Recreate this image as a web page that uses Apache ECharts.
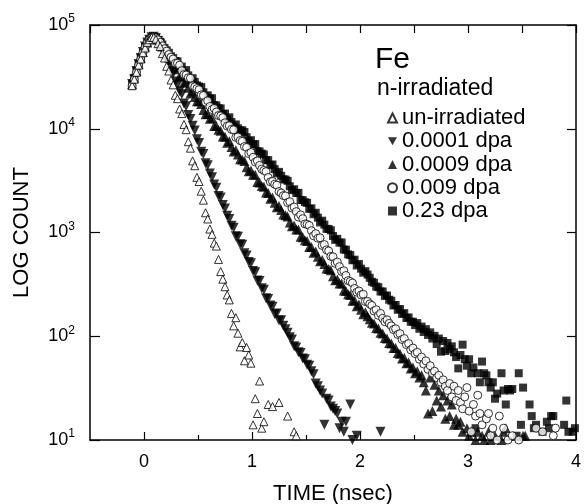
<!DOCTYPE html>
<html>
<head>
<meta charset="utf-8">
<script src="https://cdn.jsdelivr.net/npm/echarts@6/dist/echarts.min.js"></script>
<style>
  html, body { margin: 0; padding: 0; background: #fff; }
  #chart { width: 588px; height: 504px; }
</style>
</head>
<body>
<div id="chart"></div>
<script>
// channel times (nsec), one per spectrum channel
const times = [
  -0.11,-0.09,-0.07,-0.05,-0.03,-0.01,0.01,0.03,0.05,0.07,
  0.09,0.11,0.13,0.15,0.17,0.19,0.21,0.23,0.25,0.27,
  0.29,0.31,0.33,0.35,0.37,0.39,0.41,0.43,0.45,0.47,
  0.49,0.51,0.53,0.55,0.57,0.59,0.61,0.63,0.65,0.67,
  0.69,0.71,0.73,0.75,0.77,0.79,0.81,0.83,0.85,0.87,
  0.89,0.91,0.93,0.95,0.97,0.99,1.01,1.03,1.05,1.07,
  1.09,1.11,1.13,1.15,1.17,1.19,1.21,1.23,1.25,1.27,
  1.29,1.31,1.33,1.35,1.37,1.39,1.41,1.43,1.45,1.47,
  1.49,1.51,1.53,1.55,1.57,1.59,1.61,1.63,1.65,1.67,
  1.69,1.71,1.73,1.75,1.77,1.79,1.81,1.83,1.85,1.87,
  1.89,1.91,1.93,1.95,1.97,1.99,2.01,2.03,2.05,2.07,
  2.09,2.11,2.13,2.15,2.17,2.19,2.21,2.23,2.25,2.27,
  2.29,2.31,2.33,2.35,2.37,2.39,2.41,2.43,2.45,2.47,
  2.49,2.51,2.53,2.55,2.57,2.59,2.61,2.63,2.65,2.67,
  2.69,2.71,2.73,2.75,2.77,2.79,2.81,2.83,2.85,2.87,
  2.89,2.91,2.93,2.95,2.97,2.99,3.01,3.03,3.05,3.07,
  3.09,3.11,3.13,3.15,3.17,3.19,3.21,3.23,3.25,3.27,
  3.29,3.31,3.33,3.35,3.37,3.39,3.41,3.43,3.45,3.47,
  3.49,3.51,3.53,3.55,3.57,3.59,3.61,3.63,3.65,3.67,
  3.69,3.71,3.73,3.75,3.77,3.79,3.81,3.83,3.85,3.87,
  3.89,3.91,3.93,3.95,3.97,3.99
];

// counts per channel (null = nothing plotted)
const unIrradiated = [
  26000,30000,35000,41000,47000,54000,60000,68000,72000,76000,
  76000,73000,66000,62000,53000,48000,40000,36000,29500,26500,
  21000,19500,15500,14000,11000,9800,7500,6500,4900,4400,
  3400,3100,2500,2050,1550,1350,1080,960,790,740,
  550,420,355,300,250,224,166,126,151,107,
  79,87,58,78,66,55,14,25,18,37,
  13,15,null,22,null,21,null,null,23,null,
  null,null,17,null,null,12,11
];

const dpa0001 = [
  27000,30000,36000,42000,48000,55000,62000,68000,72000,76000,
  77000,75000,70000,66000,58000,53000,46000,43000,36000,34000,
  28500,26500,23000,21500,17500,16500,13600,12400,10700,9600,
  7900,7300,6000,5700,4650,4450,3700,3400,2900,2700,
  2250,2180,1840,1700,1450,1350,1160,1110,920,910,
  770,760,630,600,520,505,425,415,345,340,
  290,280,232,228,198,192,164,166,142,143,
  126,117,108,98,93,80,78,70,69,61,
  60,53,52,46,43,35,33,30,28,14,
  25,24,21,20,19,18,13,15,12,15,
  null,22,10,null,11,null,null,null,null,null,
  null,null,null,null,null,12
];

const dpa0009 = [
  27000,31000,36000,42000,48000,55000,62000,68000,73000,76000,
  77000,75000,72000,67000,62000,57000,53000,49000,46000,42000,
  39000,37400,32000,31900,27800,28400,24800,21900,22900,20200,
  18400,18400,17300,15200,13800,13900,12500,12700,10600,10600,
  9800,9570,8440,8390,7340,7560,6680,6030,6190,5660,
  5090,5050,4880,4260,3900,3970,3600,3600,3070,3030,
  2800,2760,2430,2400,2110,2170,1930,1750,1800,1650,
  1490,1470,1430,1250,1150,1170,1070,1070,910,900,
  843,826,726,726,637,656,583,527,543,497,
  449,445,432,379,346,353,323,322,276,273,
  254,250,220,221,195,202,180,163,170,156,
  146,135,133,120,119,108,106,96,95,86,
  85,77,77,69,68,61,62,55,56,49,
  50,44,46,40,42,36,30,18,40,19,
  34,24,30,21,27,16,24,17,22,14,
  16,14,15,12,null,13,11,12,null,10,
  12,null,11,10,null,12,10,null,11,null,
  null,10,12,13,null,null,null,null,null,null,
  null,11,11
];

const dpa009 = [
  26000,30000,35000,41000,47000,54000,61000,67000,72000,75000,
  76000,75000,72000,68000,63000,59000,56000,52000,49000,47000,
  42700,42800,41000,36300,33300,33000,31000,30700,25900,25300,
  24400,23800,21200,20900,18000,18600,16400,15300,15700,14500,
  13400,13300,12800,11400,10600,10700,9860,9770,8250,8350,
  7700,7560,6740,6610,5760,5900,5300,4780,4900,4430,
  4080,3960,3860,3390,3080,3110,2920,2860,2480,2400,
  2270,2250,1940,1980,1720,1760,1590,1410,1480,1360,
  1210,1200,1170,1040,930,975,880,890,750,765,
  680,664,589,584,505,519,469,421,428,385,
  344,337,326,289,266,273,250,254,216,217,
  205,198,175,180,159,166,149,138,144,133,
  126,116,118,104,106,93,95,83,85,74,
  77,68,70,60,63,54,58,48,52,44,
  46,40,42,36,38,33,30,35,26,33,
  24,30,23,20,26,32,19,12,22,17,
  27,18,14,null,16,18,11,13,null,10,
  17,null,13,null,10,null,11,null,null,10,
  null,null,null,null,null,null,null,13,null,null,
  12,null,null,null,null,11,13
];

const dpa023 = [
  27000,31000,36000,42000,48000,54000,61000,67000,72000,75000,
  76000,75000,72000,69000,65000,60000,57000,54000,50000,48000,
  45000,44700,38800,39700,34600,36800,32700,29500,30700,28300,
  26200,25500,25200,22500,20500,21000,19500,19700,16900,16800,
  15800,15700,13900,14000,12400,12900,11600,10500,11000,10100,
  9630,9670,9300,8290,7580,7760,7110,7120,6090,6040,
  5760,5660,4970,4990,4450,4530,4080,3710,3840,3520,
  3260,3240,3150,2790,2560,2610,2400,2410,2060,2050,
  1960,1930,1690,1710,1500,1550,1390,1250,1300,1190,
  1085,1080,1050,926,849,869,799,801,685,682,
  616,606,540,547,481,497,448,410,424,393,
  366,335,328,301,297,270,270,245,247,225,
  220,198,200,180,183,164,167,150,152,138,
  138,128,134,118,124,110,117,103,109,95,
  101,84,95,71,90,72,86,75,80,70,
  63,49,66,83,60,52,60,44,50,13,
  44,36,57,44,42,36,32,36,25,28,
  null,44,30,22,31,30,31,null,11,44,
  14,32,null,null,22,17,13,14,null,null,
  12,null,15,13,17,17,null,null,null,null,
  14,24,12,null,12,13
];

const seriesNames = ['un-irradiated', '0.0001 dpa', '0.0009 dpa', '0.009 dpa', '0.23 dpa'];
const xTickLabels = [0, 1, 2, 3, 4];
const xHalfTicks = [0.5, 1.5, 2.5, 3.5];

const FONT = '"Liberation Sans", Arial, Helvetica, sans-serif';

function toPoints(counts) {
  const pts = [];
  counts.forEach((c, i) => {
    if (c != null) pts.push([times[i], c]);
  });
  return pts;
}

const chart = echarts.init(document.getElementById('chart'), null, { renderer: 'canvas' });

const axisLineStyle = { color: '#000', width: 1.5 };
const tickStyle = { color: '#000', width: 1.2 };

const open = { color: '#fff', borderColor: '#000', borderWidth: 1 };
const filled = { color: '#000', borderWidth: 0 };

const option = {
  backgroundColor: '#fff',
  animation: false,
  grid: { left: 90, right: 12, top: 25, bottom: 64, outerBoundsMode: 'none', containLabel: false },
  xAxis: [
    {
      type: 'value', position: 'bottom', min: -0.5, max: 4, interval: 0.5,
      axisLine: { show: true, onZero: false, lineStyle: axisLineStyle },
      axisTick: { show: true, inside: true, length: 8, customValues: xTickLabels, lineStyle: tickStyle },
      axisLabel: {
        customValues: xTickLabels, color: '#000', fontSize: 18, fontFamily: FONT, margin: 13,
        formatter: v => (Number.isInteger(v) ? String(v) : '')
      },
      splitLine: { show: false },
      name: 'TIME (nsec)', nameLocation: 'middle', nameGap: 43,
      nameTextStyle: { color: '#000', fontSize: 22, fontFamily: FONT }
    },
    {
      type: 'value', position: 'bottom', min: -0.5, max: 4, interval: 0.5,
      axisLine: { show: false },
      axisTick: { show: true, inside: true, length: 5, customValues: xHalfTicks, lineStyle: tickStyle },
      axisLabel: { show: false },
      splitLine: { show: false }
    },
    {
      type: 'value', position: 'top', min: -0.5, max: 4, interval: 0.5,
      axisLine: { show: true, onZero: false, lineStyle: axisLineStyle },
      axisTick: { show: true, inside: true, length: 8, lineStyle: tickStyle },
      axisLabel: { show: false },
      splitLine: { show: false }
    }
  ],
  yAxis: [
    {
      type: 'log', logBase: 10, min: 10, max: 100000, position: 'left',
      axisLine: { show: true, onZero: false, lineStyle: axisLineStyle },
      axisTick: { show: true, inside: true, length: 10, lineStyle: tickStyle },
      axisLabel: {
        margin: 15,
        formatter: v => '{b|10}{s|' + Math.round(Math.log10(v)) + '}',
        rich: {
          b: { fontSize: 18, fontFamily: FONT, color: '#000', lineHeight: 24 },
          s: { fontSize: 12, fontFamily: FONT, color: '#000', lineHeight: 13, verticalAlign: 'top' }
        }
      },
      splitLine: { show: false },
      minorTick: { show: false },
      name: 'LOG COUNT', nameLocation: 'middle', nameGap: 57, nameRotate: 90,
      nameTextStyle: { color: '#000', fontSize: 22, fontFamily: FONT }
    },
    {
      type: 'log', logBase: 10, min: 10, max: 100000, position: 'right',
      axisLine: { show: true, onZero: false, lineStyle: axisLineStyle },
      axisTick: { show: true, inside: true, length: 9, lineStyle: tickStyle },
      axisLabel: { show: false },
      splitLine: { show: false }
    }
  ],
  legend: {
    data: seriesNames,
    orient: 'vertical',
    left: 387, top: 107, padding: 0,
    itemWidth: 9, itemHeight: 9, itemGap: 1.25,
    selectedMode: false,
    textStyle: { color: '#000', fontSize: 22, fontFamily: FONT, lineHeight: 22 }
  },
  graphic: [
    {
      type: 'text', x: 375, y: 60,
      style: { text: 'Fe', font: '30px ' + FONT, fill: '#000', verticalAlign: 'middle', textVerticalAlign: 'middle' }
    },
    {
      type: 'text', x: 377, y: 89,
      style: { text: 'n-irradiated', font: '23px ' + FONT, fill: '#000', verticalAlign: 'middle', textVerticalAlign: 'middle' }
    }
  ],
  series: [
    {
      name: '0.23 dpa', type: 'scatter', symbol: 'rect', symbolSize: 8,
      itemStyle: filled, data: toPoints(dpa023)
    },
    {
      name: '0.0009 dpa', type: 'scatter', symbol: 'triangle', symbolSize: 10,
      itemStyle: filled, data: toPoints(dpa0009)
    },
    {
      name: '0.0001 dpa', type: 'scatter', symbol: 'path://M0,0L10,0L5,9Z', symbolSize: 10,
      itemStyle: filled, data: toPoints(dpa0001)
    },
    {
      name: '0.009 dpa', type: 'scatter', symbol: 'circle', symbolSize: 8,
      itemStyle: open, data: toPoints(dpa009)
    },
    {
      name: 'un-irradiated', type: 'scatter', symbol: 'triangle', symbolSize: 8,
      itemStyle: open, data: toPoints(unIrradiated)
    }
  ]
};

chart.setOption(option);
</script>
</body>
</html>
